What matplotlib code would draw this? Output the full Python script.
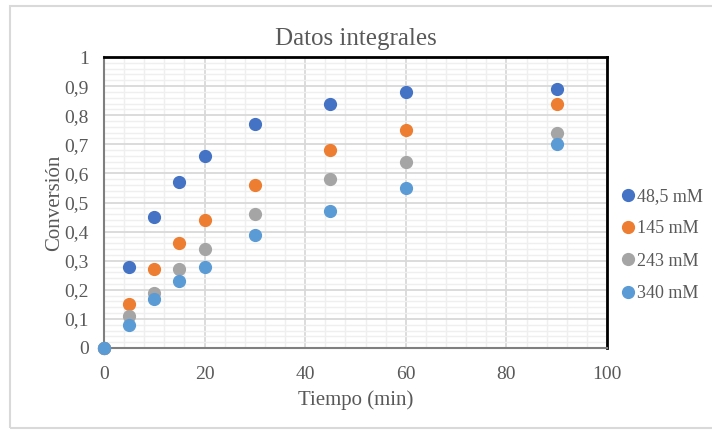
import matplotlib
matplotlib.use("Agg")
import matplotlib.pyplot as plt
from matplotlib.patches import Rectangle
from matplotlib.ticker import MultipleLocator, FixedLocator, FixedFormatter

# Reaction time (min)
tiempo = [0, 5, 10, 15, 20, 30, 45, 60, 90]

# Conversion for each initial concentration
conv_48_5 = [0, 0.28, 0.45, 0.57, 0.66, 0.77, 0.84, 0.88, 0.89]
conv_145 = [0, 0.15, 0.27, 0.36, 0.44, 0.56, 0.68, 0.75, 0.84]
conv_243 = [0, 0.11, 0.19, 0.27, 0.34, 0.46, 0.58, 0.64, 0.74]
conv_340 = [0, 0.08, 0.17, 0.23, 0.28, 0.39, 0.47, 0.55, 0.70]

series_labels = ["48,5 mM", "145 mM", "243 mM", "340 mM"]
series_colors = ["#4472C4", "#ED7D31", "#A5A5A5", "#5B9BD5"]

x_ticks = [0, 20, 40, 60, 80, 100]
x_tick_labels = ["0", "20", "40", "60", "80", "100"]
y_ticks = [0, 0.1, 0.2, 0.3, 0.4, 0.5, 0.6, 0.7, 0.8, 0.9, 1.0]
y_tick_labels = ["0", "0,1", "0,2", "0,3", "0,4", "0,5", "0,6", "0,7", "0,8", "0,9", "1"]

plt.rcParams["font.family"] = ["Liberation Serif", "DejaVu Serif"]
text_color = "#595959"

fig = plt.figure(figsize=(7.12, 4.30), dpi=100)
fig.patch.set_facecolor("white")

# Chart area frame
fig.patches.append(Rectangle((10 / 712, 2 / 430), 1.2, 422 / 430,
                             transform=fig.transFigure, fill=False,
                             edgecolor="#d9d9d9", linewidth=1.5))

ax = fig.add_axes([104 / 712, 1 - 348 / 430, (607 - 104) / 712, (348 - 57) / 430])

for vals, lab, col in zip([conv_48_5, conv_145, conv_243, conv_340],
                          series_labels, series_colors):
    ax.plot(tiempo, vals, linestyle="none", marker="o", markersize=8.5,
            color=col, label=lab, clip_on=False, zorder=3)

ax.set_xlim(0, 100)
ax.set_ylim(0, 1)

ax.xaxis.set_major_locator(FixedLocator(x_ticks))
ax.xaxis.set_major_formatter(FixedFormatter(x_tick_labels))
ax.yaxis.set_major_locator(FixedLocator(y_ticks))
ax.yaxis.set_major_formatter(FixedFormatter(y_tick_labels))
ax.xaxis.set_minor_locator(MultipleLocator(4))
ax.yaxis.set_minor_locator(MultipleLocator(0.02))

ax.grid(which="major", color="#d9d9d9", linewidth=1.3)
ax.grid(which="minor", color="#efefef", linewidth=1.0)
ax.set_axisbelow(True)

ax.tick_params(which="both", length=0, labelsize=14, colors=text_color)
ax.tick_params(axis="x", pad=13)
ax.tick_params(axis="y", pad=11)

for side in ["top", "right"]:
    ax.spines[side].set_color("black")
    ax.spines[side].set_linewidth(2)
for side in ["left", "bottom"]:
    ax.spines[side].set_color("#7f7f7f")
    ax.spines[side].set_linewidth(1.5)

ax.set_title("Datos integrales", fontsize=18, color=text_color, pad=9)
ax.set_xlabel("Tiempo (min)", fontsize=15, color=text_color, labelpad=5)
ax.set_ylabel("Conversión", fontsize=15, color=text_color, labelpad=0)

leg = ax.legend(loc="upper left", bbox_to_anchor=(1.01, 0.575), frameon=False,
                fontsize=13, handletextpad=0.0, handlelength=1.0,
                labelspacing=0.85, borderaxespad=0)
for t in leg.get_texts():
    t.set_color(text_color)

fig.savefig("out.png", dpi=100, facecolor="white")
